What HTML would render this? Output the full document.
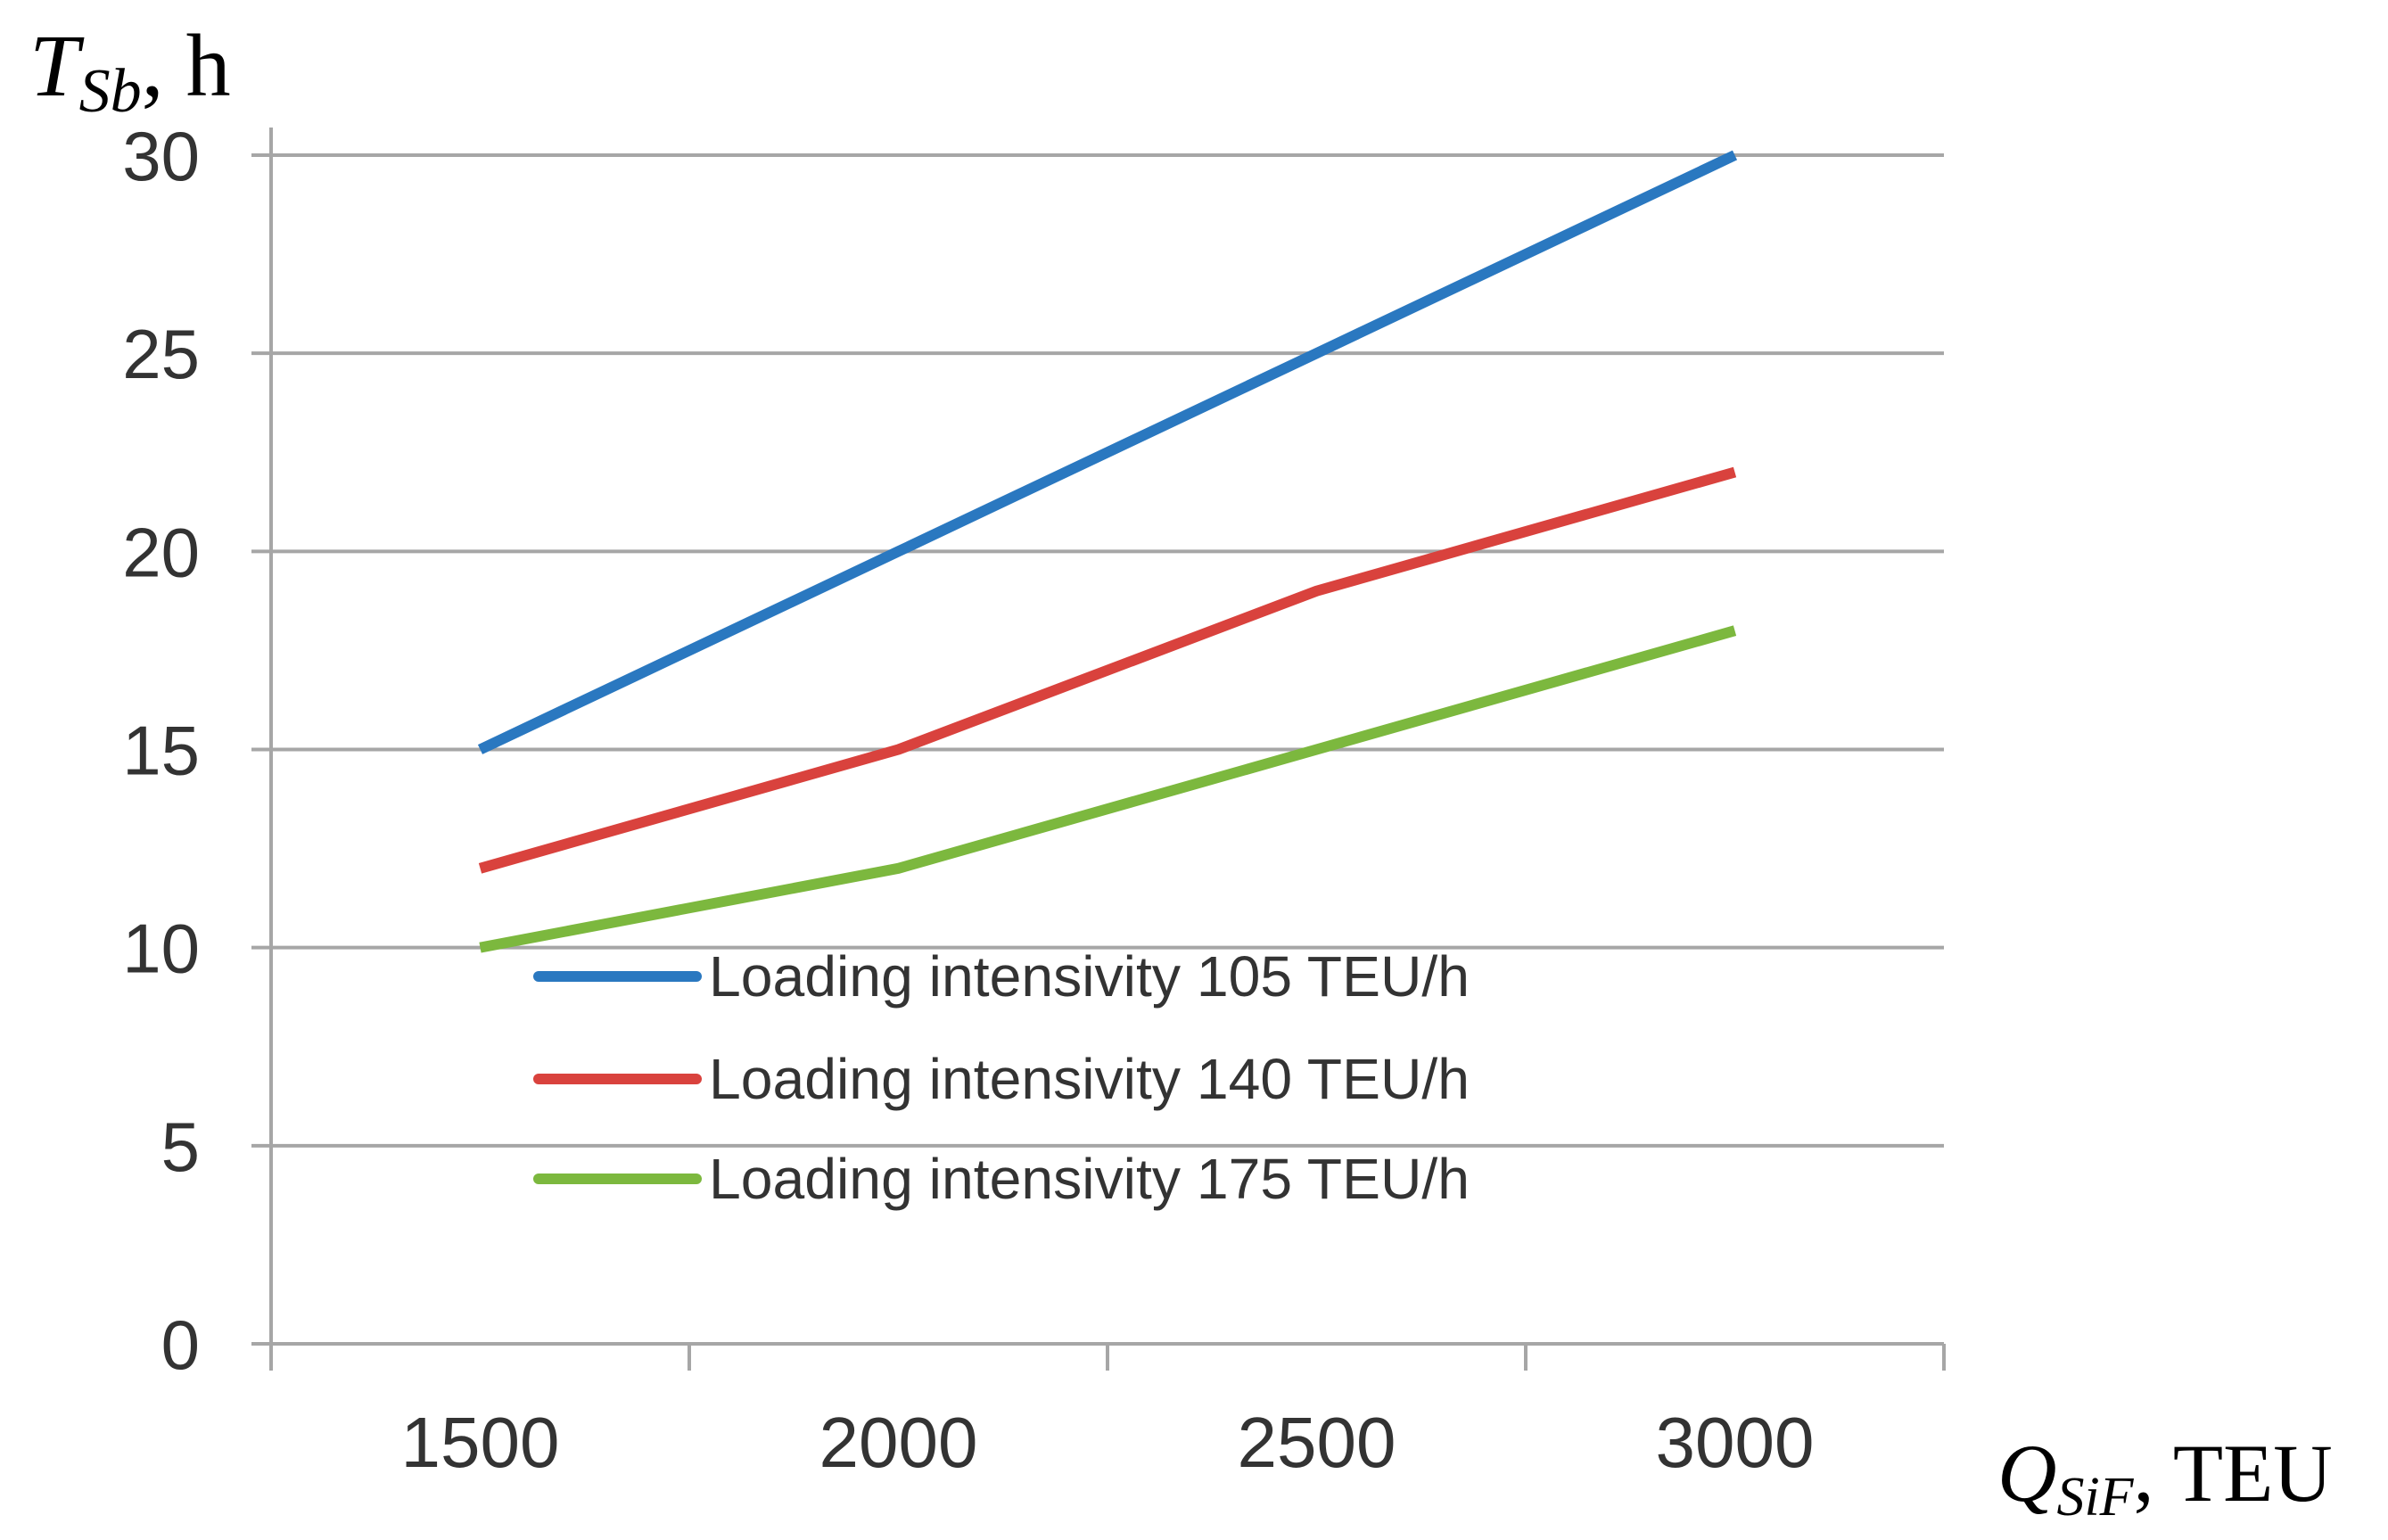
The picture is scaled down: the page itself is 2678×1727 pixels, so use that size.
<!DOCTYPE html>
<html><head><meta charset="utf-8"><style>
html,body{margin:0;padding:0;background:#fff;}
svg{display:block;}
</style></head><body>
<svg width="2678" height="1727" viewBox="0 0 2678 1727" xmlns="http://www.w3.org/2000/svg">
<g id="grid"></g>
<g id="axes"></g>
<g id="series"></g>
<g id="legend"></g>
<text x="33" y="107" font-family="Liberation Serif, serif" font-size="100" font-style="italic" fill="#000">T<tspan font-size="70" dy="18">Sb</tspan><tspan dy="-18" font-style="normal">, h</tspan></text>
<text x="2240" y="1683" font-family="Liberation Serif, serif" font-size="92" font-style="italic" fill="#000">Q<tspan font-size="62" dy="16">SiF</tspan><tspan dy="-16" font-style="normal">, TEU</tspan></text>
</svg>
<script>
const categories = ["1500", "2000", "2500", "3000"];
const yTicks = [0, 5, 10, 15, 20, 25, 30];
const seriesNames = ["Loading intensivity 105 TEU/h", "Loading intensivity 140 TEU/h", "Loading intensivity 175 TEU/h"];
const series105 = [15, 20, 25, 30];
const series140 = [12, 15, 19, 22];
const series175 = [10, 12, 15, 18];

const NS = "http://www.w3.org/2000/svg";
const L = 304, R = 2180, T = 174, B = 1507, yMax = 30;
const band = (R - L) / categories.length;
function xPos(i){ return L + band * (i + 0.5); }
function yPos(v){ return B - (v / yMax) * (B - T); }
function mk(tag, attrs, parent){ const e = document.createElementNS(NS, tag); for (const k in attrs) e.setAttribute(k, attrs[k]); parent.appendChild(e); return e; }

const grid = document.getElementById('grid');
const axes = document.getElementById('axes');
yTicks.forEach(v => {
  const y = yPos(v);
  const ln = mk('line', {x1: L - 22, x2: R, y1: y, y2: y, stroke: '#a6a6a6', 'stroke-width': 4}, grid);
  
  
  const t = mk('text', {x: 224, y: y + 28, 'text-anchor': 'end', 'font-family': 'Liberation Sans, sans-serif', 'font-size': 78, fill: '#333'}, axes);
  t.textContent = v;
  
  
});
const ya = mk('line', {x1: L, x2: L, y1: 143, y2: B + 30, stroke: '#a6a6a6', 'stroke-width': 4}, axes);


for (let i = 0; i <= categories.length; i++) {
  const x = L + band * i;
  const tk = mk('line', {x1: x, x2: x, y1: B, y2: B + 30, stroke: '#a6a6a6', 'stroke-width': 4}, axes);
  
  
}
categories.forEach((c, i) => {
  const t = mk('text', {x: xPos(i), y: 1645, 'text-anchor': 'middle', 'font-family': 'Liberation Sans, sans-serif', 'font-size': 80, fill: '#333'}, axes);
  t.textContent = c;
  
  
});

const colors = ['#2a78c0', '#d9423d', '#7cb83e'];
const allSeries = [series105, series140, series175];
const sg = document.getElementById('series');
allSeries.forEach((s, k) => {
  const pts = s.map((v, i) => xPos(i) + ',' + yPos(v)).join(' ');
  const pl = mk('polyline', {points: pts, fill: 'none', stroke: colors[k], 'stroke-width': 12, 'stroke-linejoin': 'round'}, sg);
  
  
});

const lg = document.getElementById('legend');
const legY = [1095, 1210, 1322];
seriesNames.forEach((n, k) => {
  const ln = mk('line', {x1: 604, x2: 781, y1: legY[k], y2: legY[k], stroke: colors[k], 'stroke-width': 12, 'stroke-linecap': 'round'}, lg);
  
  
  const t = mk('text', {x: 795, y: legY[k] + 22, 'font-family': 'Liberation Sans, sans-serif', 'font-size': 64, fill: '#333', textLength: 853, lengthAdjust: 'spacingAndGlyphs'}, lg);
  t.textContent = n;
  
  
});
</script>
</body></html>
